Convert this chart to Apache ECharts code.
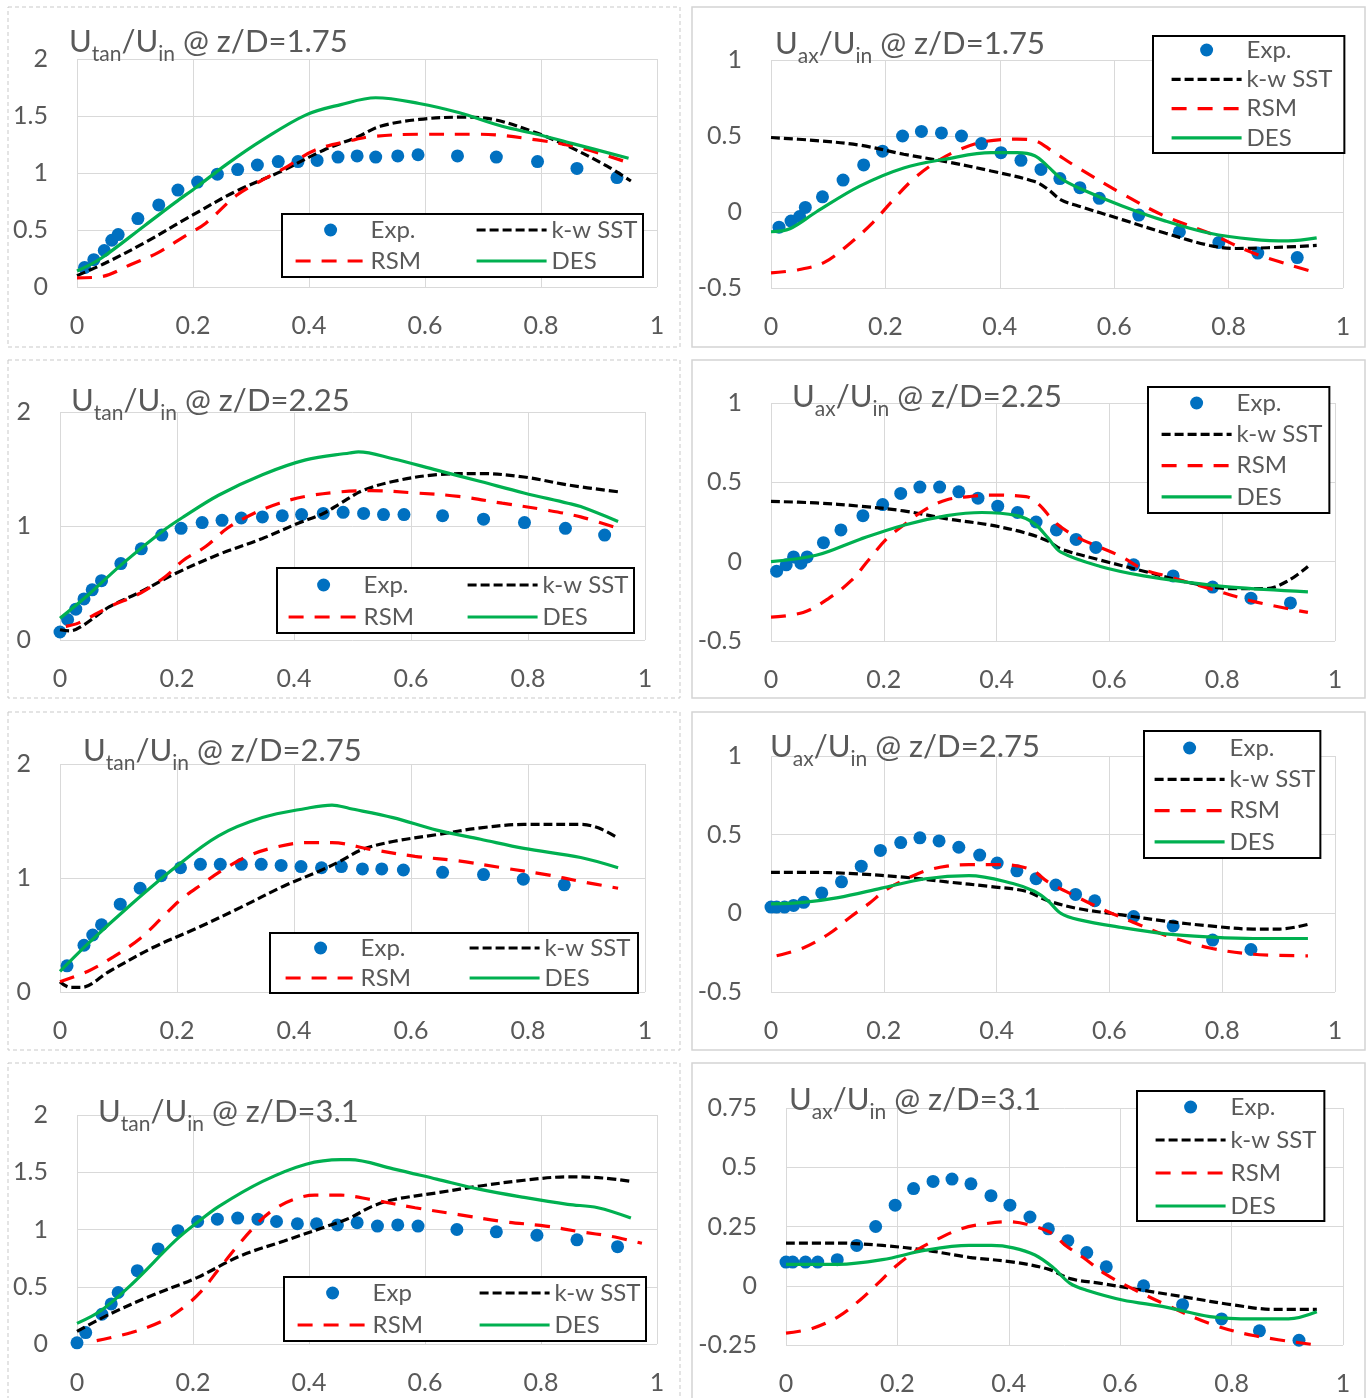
<!DOCTYPE html>
<html lang="en">
<head>
<meta charset="UTF-8">
<title>Velocity profiles</title>
<script src="https://cdn.jsdelivr.net/npm/echarts@6/dist/echarts.min.js"></script>
<style>
    html, body { margin: 0; padding: 0; background: #fff; }
    #chart { width: 1370px; height: 1398px; }
</style>
</head>
<body>
<div id="chart"></div>
<script>
    // ---- tangential velocity, z/D = 1.75
    var tan175Exp = [[0.013,0.17],[0.029,0.24],[0.047,0.32],[0.06,0.41],[0.071,0.46],[0.105,0.6],[0.141,0.72],[0.174,0.85],[0.208,0.92],[0.242,0.99],[0.277,1.03],[0.311,1.07],[0.347,1.1],[0.381,1.1],[0.414,1.11],[0.45,1.14],[0.483,1.15],[0.515,1.14],[0.553,1.15],[0.588,1.16],[0.656,1.15],[0.723,1.14],[0.794,1.1],[0.862,1.04],[0.931,0.96]];
    var tan175Sst = [[0,0.1],[0.049,0.21],[0.117,0.39],[0.199,0.63],[0.274,0.84],[0.35,1.01],[0.425,1.2],[0.485,1.32],[0.523,1.41],[0.59,1.47],[0.665,1.49],[0.718,1.47],[0.793,1.35],[0.853,1.22],[0.914,1.06],[0.955,0.93]];
    var tan175Rsm = [[0,0.08],[0.041,0.09],[0.094,0.2],[0.139,0.3],[0.184,0.44],[0.222,0.56],[0.274,0.8],[0.32,0.94],[0.357,1.04],[0.41,1.2],[0.477,1.29],[0.508,1.32],[0.59,1.34],[0.695,1.34],[0.793,1.29],[0.868,1.22],[0.951,1.09]];
    var tan175Des = [[0,0.14],[0.041,0.25],[0.117,0.54],[0.169,0.74],[0.207,0.88],[0.259,1.08],[0.32,1.29],[0.395,1.51],[0.455,1.6],[0.515,1.66],[0.59,1.61],[0.658,1.53],[0.733,1.41],[0.793,1.34],[0.853,1.26],[0.951,1.13]];

    // ---- axial velocity, z/D = 1.75
    var ax175Exp = [[0.014,-0.1],[0.035,-0.06],[0.05,-0.03],[0.06,0.03],[0.09,0.1],[0.126,0.21],[0.162,0.31],[0.195,0.4],[0.23,0.5],[0.263,0.53],[0.298,0.52],[0.333,0.5],[0.368,0.45],[0.402,0.39],[0.437,0.34],[0.472,0.28],[0.505,0.22],[0.54,0.16],[0.574,0.09],[0.643,-0.02],[0.714,-0.13],[0.783,-0.2],[0.851,-0.27],[0.92,-0.3]];
    var ax175Sst = [[0,0.49],[0.079,0.47],[0.155,0.44],[0.232,0.38],[0.308,0.33],[0.385,0.27],[0.461,0.2],[0.484,0.15],[0.507,0.08],[0.537,0.04],[0.614,-0.05],[0.69,-0.14],[0.767,-0.22],[0.813,-0.24],[0.954,-0.22]];
    var ax175Rsm = [[0,-0.4],[0.048,-0.38],[0.094,-0.33],[0.14,-0.2],[0.178,-0.07],[0.209,0.06],[0.247,0.21],[0.285,0.32],[0.323,0.4],[0.369,0.46],[0.43,0.48],[0.461,0.47],[0.492,0.4],[0.537,0.29],[0.614,0.12],[0.69,-0.03],[0.767,-0.14],[0.843,-0.27],[0.954,-0.4]];
    var ax175Des = [[0,-0.13],[0.033,-0.11],[0.079,0],[0.155,0.17],[0.232,0.29],[0.308,0.35],[0.385,0.39],[0.43,0.39],[0.461,0.37],[0.484,0.3],[0.507,0.22],[0.537,0.16],[0.614,0.04],[0.69,-0.06],[0.767,-0.14],[0.843,-0.18],[0.904,-0.19],[0.954,-0.17]];

    // ---- tangential velocity, z/D = 2.25
    var tan225Exp = [[0,0.07],[0.013,0.18],[0.027,0.27],[0.041,0.36],[0.055,0.44],[0.071,0.52],[0.104,0.67],[0.139,0.8],[0.174,0.92],[0.207,0.98],[0.243,1.03],[0.277,1.05],[0.31,1.07],[0.346,1.08],[0.38,1.09],[0.413,1.1],[0.45,1.11],[0.484,1.12],[0.519,1.11],[0.553,1.1],[0.588,1.1],[0.654,1.09],[0.724,1.06],[0.794,1.03],[0.864,0.98],[0.931,0.92]];
    var tan225Sst = [[0,0.09],[0.017,0.08],[0.04,0.13],[0.084,0.29],[0.137,0.42],[0.196,0.58],[0.271,0.75],[0.346,0.89],[0.405,1.02],[0.45,1.11],[0.48,1.2],[0.517,1.31],[0.569,1.39],[0.644,1.45],[0.719,1.46],[0.793,1.43],[0.868,1.36],[0.954,1.3]];
    var tan225Rsm = [[0.01,0.12],[0.032,0.15],[0.084,0.29],[0.137,0.41],[0.181,0.56],[0.211,0.7],[0.249,0.82],[0.286,0.98],[0.331,1.11],[0.375,1.2],[0.42,1.26],[0.48,1.3],[0.532,1.31],[0.607,1.29],[0.681,1.26],[0.756,1.2],[0.831,1.14],[0.89,1.08],[0.954,0.98]];
    var tan225Des = [[0,0.19],[0.047,0.39],[0.107,0.67],[0.174,0.95],[0.211,1.08],[0.271,1.27],[0.346,1.45],[0.42,1.58],[0.495,1.64],[0.51,1.65],[0.569,1.59],[0.644,1.49],[0.719,1.39],[0.793,1.29],[0.868,1.2],[0.89,1.17],[0.954,1.04]];

    // ---- axial velocity, z/D = 2.25
    var ax225Exp = [[0.01,-0.06],[0.027,-0.02],[0.04,0.03],[0.053,-0.01],[0.064,0.03],[0.093,0.12],[0.124,0.2],[0.163,0.29],[0.198,0.36],[0.23,0.43],[0.264,0.47],[0.299,0.47],[0.333,0.44],[0.367,0.4],[0.402,0.35],[0.437,0.31],[0.47,0.25],[0.506,0.2],[0.541,0.14],[0.576,0.09],[0.643,-0.02],[0.713,-0.09],[0.783,-0.16],[0.851,-0.23],[0.921,-0.26]];
    var ax225Sst = [[0,0.38],[0.08,0.37],[0.157,0.35],[0.235,0.32],[0.312,0.27],[0.39,0.23],[0.452,0.18],[0.491,0.13],[0.514,0.08],[0.584,0.01],[0.661,-0.06],[0.739,-0.13],[0.816,-0.17],[0.878,-0.17],[0.917,-0.12],[0.952,-0.03]];
    var ax225Rsm = [[0,-0.35],[0.057,-0.32],[0.103,-0.23],[0.142,-0.12],[0.173,0.01],[0.204,0.14],[0.235,0.23],[0.274,0.33],[0.312,0.39],[0.351,0.41],[0.39,0.42],[0.452,0.41],[0.475,0.36],[0.506,0.24],[0.545,0.15],[0.584,0.09],[0.622,0.03],[0.661,-0.05],[0.7,-0.09],[0.778,-0.17],[0.855,-0.25],[0.952,-0.32]];
    var ax225Des = [[0,0],[0.08,0.04],[0.157,0.14],[0.235,0.23],[0.312,0.29],[0.374,0.31],[0.436,0.29],[0.467,0.24],[0.491,0.15],[0.514,0.06],[0.584,-0.03],[0.661,-0.09],[0.739,-0.13],[0.816,-0.16],[0.952,-0.19]];

    // ---- tangential velocity, z/D = 2.75
    var tan275Exp = [[0.012,0.23],[0.041,0.41],[0.056,0.5],[0.071,0.59],[0.103,0.77],[0.137,0.91],[0.173,1.02],[0.206,1.09],[0.24,1.12],[0.274,1.12],[0.31,1.12],[0.344,1.12],[0.378,1.11],[0.412,1.1],[0.447,1.09],[0.481,1.1],[0.517,1.08],[0.55,1.08],[0.587,1.07],[0.654,1.05],[0.724,1.03],[0.792,0.99],[0.862,0.94]];
    var tan275Sst = [[0,0.09],[0.017,0.04],[0.036,0.04],[0.084,0.18],[0.159,0.39],[0.234,0.56],[0.308,0.74],[0.383,0.93],[0.443,1.06],[0.48,1.15],[0.517,1.25],[0.569,1.32],[0.644,1.38],[0.719,1.44],[0.793,1.47],[0.89,1.47],[0.92,1.44],[0.954,1.35]];
    var tan275Rsm = [[0,0.09],[0.047,0.18],[0.092,0.31],[0.137,0.47],[0.174,0.65],[0.204,0.8],[0.241,0.94],[0.278,1.07],[0.316,1.18],[0.36,1.26],[0.42,1.31],[0.465,1.31],[0.532,1.25],[0.607,1.19],[0.681,1.15],[0.756,1.09],[0.831,1.03],[0.89,0.97],[0.954,0.91]];
    var tan275Des = [[0,0.18],[0.047,0.42],[0.122,0.77],[0.196,1.09],[0.271,1.37],[0.346,1.53],[0.42,1.61],[0.465,1.64],[0.495,1.61],[0.569,1.53],[0.644,1.42],[0.719,1.34],[0.793,1.26],[0.89,1.18],[0.954,1.09]];

    // ---- axial velocity, z/D = 2.75
    var ax275Exp = [[0,0.04],[0.01,0.04],[0.024,0.04],[0.04,0.05],[0.058,0.07],[0.09,0.13],[0.125,0.2],[0.16,0.3],[0.194,0.4],[0.23,0.45],[0.264,0.48],[0.298,0.46],[0.333,0.42],[0.37,0.37],[0.401,0.32],[0.436,0.27],[0.47,0.22],[0.505,0.18],[0.54,0.12],[0.574,0.08],[0.643,-0.02],[0.713,-0.08],[0.783,-0.17],[0.851,-0.23]];
    var ax275Sst = [[0,0.26],[0.08,0.26],[0.157,0.25],[0.235,0.23],[0.312,0.2],[0.39,0.17],[0.452,0.14],[0.491,0.08],[0.545,0.03],[0.622,-0.01],[0.7,-0.05],[0.778,-0.08],[0.855,-0.1],[0.902,-0.1],[0.952,-0.07]];
    var ax275Rsm = [[0.01,-0.27],[0.057,-0.22],[0.103,-0.13],[0.142,-0.02],[0.173,0.06],[0.204,0.15],[0.235,0.21],[0.274,0.27],[0.312,0.3],[0.351,0.31],[0.405,0.31],[0.46,0.28],[0.491,0.2],[0.545,0.1],[0.591,0.02],[0.638,-0.05],[0.7,-0.14],[0.778,-0.22],[0.855,-0.26],[0.952,-0.27]];
    var ax275Des = [[0,0.06],[0.057,0.07],[0.119,0.1],[0.196,0.16],[0.274,0.22],[0.351,0.24],[0.429,0.19],[0.467,0.14],[0.491,0.08],[0.514,0],[0.545,-0.04],[0.622,-0.09],[0.7,-0.13],[0.778,-0.15],[0.855,-0.16],[0.952,-0.16]];

    // ---- tangential velocity, z/D = 3.1
    var tan31Exp = [[0,0.01],[0.015,0.1],[0.043,0.26],[0.059,0.35],[0.071,0.45],[0.104,0.64],[0.14,0.83],[0.174,0.99],[0.208,1.07],[0.242,1.09],[0.277,1.1],[0.312,1.09],[0.344,1.07],[0.38,1.05],[0.413,1.05],[0.449,1.04],[0.483,1.06],[0.518,1.03],[0.553,1.04],[0.588,1.03],[0.655,1],[0.723,0.98],[0.793,0.95],[0.862,0.91],[0.932,0.85]];
    var tan31Sst = [[0,0.11],[0.056,0.26],[0.132,0.43],[0.207,0.58],[0.282,0.77],[0.357,0.9],[0.432,1.03],[0.47,1.1],[0.508,1.2],[0.545,1.26],[0.62,1.32],[0.695,1.38],[0.771,1.43],[0.846,1.46],[0.906,1.45],[0.955,1.42]];
    var tan31Rsm = [[0.034,0.03],[0.094,0.1],[0.147,0.2],[0.184,0.32],[0.214,0.46],[0.244,0.65],[0.274,0.84],[0.305,1.02],[0.335,1.16],[0.372,1.26],[0.41,1.3],[0.455,1.3],[0.508,1.26],[0.583,1.19],[0.658,1.13],[0.733,1.07],[0.808,1.03],[0.868,0.98],[0.921,0.94],[0.974,0.88]];
    var tan31Des = [[0,0.18],[0.041,0.29],[0.094,0.52],[0.169,0.9],[0.207,1.06],[0.244,1.2],[0.32,1.42],[0.395,1.57],[0.455,1.61],[0.47,1.61],[0.545,1.53],[0.62,1.44],[0.695,1.35],[0.771,1.28],[0.846,1.22],[0.898,1.19],[0.955,1.1]];

    // ---- axial velocity, z/D = 3.1
    var ax31Exp = [[0,0.1],[0.012,0.1],[0.035,0.1],[0.057,0.1],[0.092,0.11],[0.127,0.17],[0.161,0.25],[0.196,0.34],[0.229,0.41],[0.264,0.44],[0.298,0.45],[0.332,0.43],[0.368,0.38],[0.402,0.34],[0.438,0.29],[0.471,0.24],[0.506,0.19],[0.54,0.14],[0.575,0.08],[0.642,0],[0.712,-0.08],[0.782,-0.14],[0.85,-0.19],[0.921,-0.23]];
    var ax31Sst = [[0,0.18],[0.094,0.18],[0.173,0.17],[0.251,0.15],[0.329,0.12],[0.408,0.1],[0.471,0.07],[0.51,0.03],[0.565,0.01],[0.643,-0.02],[0.722,-0.05],[0.8,-0.08],[0.878,-0.1],[0.953,-0.1]];
    var ax31Rsm = [[0,-0.2],[0.047,-0.18],[0.094,-0.13],[0.133,-0.06],[0.165,0.01],[0.196,0.08],[0.235,0.15],[0.275,0.2],[0.314,0.24],[0.353,0.26],[0.4,0.27],[0.447,0.25],[0.478,0.22],[0.502,0.17],[0.533,0.12],[0.573,0.05],[0.62,-0.01],[0.682,-0.08],[0.761,-0.16],[0.839,-0.21],[0.953,-0.25]];
    var ax31Des = [[0,0.09],[0.094,0.09],[0.173,0.11],[0.251,0.15],[0.329,0.17],[0.369,0.17],[0.408,0.16],[0.447,0.13],[0.478,0.08],[0.51,0.01],[0.541,-0.02],[0.604,-0.06],[0.682,-0.09],[0.761,-0.13],[0.839,-0.14],[0.902,-0.14],[0.953,-0.11]];

    var FONT = 'Lato, "DejaVu Sans", sans-serif';
    var GREY = '#595959';

    var SST_LINE = {color: '#000', width: 3.2, type: [9, 4]};
    var RSM_LINE = {color: '#ff0000', width: 3.2, type: [15, 11]};
    var DES_LINE = {color: '#00b050', width: 3.2};

    // one entry per panel: plot box, y range, title spot, legend layout
    // left column legends are two columns inside a drawn box, right column legends are one boxed column
    var panels = [
        {kind: 'tan', z: '1.75', expName: 'Exp.', data: [tan175Exp, tan175Sst, tan175Rsm, tan175Des],
            grid: [77, 59, 580, 228], y: [0, 2, 0.5], title: [69, 19],
            leg: {cols: [294, 475], top: 218, gap: 7, box: [282, 214, 361, 63]}},
        {kind: 'ax', z: '1.75', expName: 'Exp.', data: [ax175Exp, ax175Sst, ax175Rsm, ax175Des],
            grid: [771, 60, 572, 228], y: [-0.5, 1, 0.5], title: [775, 21],
            leg: {left: 1153, top: 36, gap: 5.3, pad: [2, 12, 3, 17]}},
        {kind: 'tan', z: '2.25', expName: 'Exp.', data: [tan225Exp, tan225Sst, tan225Rsm, tan225Des],
            grid: [60, 412, 585, 228], y: [0, 2, 1], title: [71, 378],
            leg: {cols: [287, 466], top: 573, gap: 8, box: [277, 568, 357, 65]}},
        {kind: 'ax', z: '2.25', expName: 'Exp.', data: [ax225Exp, ax225Sst, ax225Rsm, ax225Des],
            grid: [771, 403, 564, 238], y: [-0.5, 1, 0.5], title: [792, 374],
            leg: {left: 1148, top: 387, gap: 7.3, pad: [4, 7, 4, 12]}},
        {kind: 'tan', z: '2.75', expName: 'Exp.', data: [tan275Exp, tan275Sst, tan275Rsm, tan275Des],
            grid: [60, 764, 585, 228], y: [0, 2, 1], title: [83, 728],
            leg: {cols: [284, 468], top: 936, gap: 6, box: [270, 933, 368, 60]}},
        {kind: 'ax', z: '2.75', expName: 'Exp.', data: [ax275Exp, ax275Sst, ax275Rsm, ax275Des],
            grid: [771, 756, 564, 236], y: [-0.5, 1, 0.5], title: [770, 724],
            leg: {left: 1144, top: 731, gap: 7.3, pad: [5, 5, 4, 9]}},
        {kind: 'tan', z: '3.1', expName: 'Exp', data: [tan31Exp, tan31Sst, tan31Rsm, tan31Des],
            grid: [77, 1115, 580, 229], y: [0, 2, 0.5], title: [98, 1089],
            leg: {cols: [296, 478], top: 1281, gap: 8, box: [284, 1277, 362, 64]}},
        {kind: 'ax', z: '3.1', expName: 'Exp.', data: [ax31Exp, ax31Sst, ax31Rsm, ax31Des],
            grid: [786, 1108, 557, 237], y: [-0.25, 0.75, 0.25], title: [789, 1077],
            leg: {left: 1137, top: 1091, gap: 9, pad: [4, 8, 3, 17]}}
    ];

    var option = {
        backgroundColor: '#fff',
        animation: false,
        grid: [], xAxis: [], yAxis: [], title: [], legend: [], series: [],
        graphic: []
    };

    // panel frames: dashed on the left column, solid on the right
    [[7, 340], [360, 338], [712, 338], [1063, 340]].forEach(function (r) {
        option.graphic.push({type: 'rect', z: 0, silent: true, shape: {x: 8, y: r[0], width: 672, height: r[1]},
            style: {fill: 'none', stroke: '#c9c9c9', lineWidth: 1, lineDash: [4, 3]}});
        option.graphic.push({type: 'rect', z: 0, silent: true, shape: {x: 692, y: r[0], width: 673, height: r[1]},
            style: {fill: 'none', stroke: '#d4d4d4', lineWidth: 1.5}});
    });

    // legend entries for lines: hide the marker the line icon would carry
    var noMarker = {color: 'rgba(0,0,0,0)', borderWidth: 0, opacity: 0};
    function legendItem(name, line) {
        if (!line) return {name: name};
        return {name: name, itemStyle: noMarker, lineStyle: line};
    }

    function legendBase(extra) {
        var base = {
            orient: 'vertical', itemWidth: 70, itemHeight: 13, z: 10, selectedMode: false,
            textStyle: {fontSize: 24, color: GREY, fontFamily: FONT}
        };
        for (var k in extra) base[k] = extra[k];
        return base;
    }

    panels.forEach(function (p, i) {
        option.grid.push({left: p.grid[0], top: p.grid[1], width: p.grid[2], height: p.grid[3]});
        option.xAxis.push({
            type: 'value', gridIndex: i, min: 0, max: 1, interval: 0.2,
            axisLine: {show: false, onZero: false}, axisTick: {show: false},
            splitLine: {lineStyle: {color: '#d9d9d9', width: 1}},
            axisLabel: {fontSize: 25, color: GREY, fontFamily: FONT, margin: 26}
        });
        option.yAxis.push({
            type: 'value', gridIndex: i, min: p.y[0], max: p.y[1], interval: p.y[2],
            axisLine: {show: false}, axisTick: {show: false},
            splitLine: {lineStyle: {color: '#d9d9d9', width: 1}},
            axisLabel: {fontSize: 25, color: GREY, fontFamily: FONT, margin: 29}
        });
        option.title.push({
            left: p.title[0], top: p.title[1], padding: 0,
            text: '{m|U}{s|' + p.kind + '}{m|/U}{s|in}{m| @ z/D=' + p.z + '}',
            textStyle: {
                fontWeight: 'normal',
                rich: {
                    m: {fontSize: 31, lineHeight: 46, color: GREY, fontFamily: FONT, fontWeight: 'normal', verticalAlign: 'middle'},
                    s: {fontSize: 21, lineHeight: 21, color: GREY, fontFamily: FONT, fontWeight: 'normal', verticalAlign: 'bottom'}
                }
            }
        });

        var L = p.leg;
        if (L.cols) {
            option.graphic.push({type: 'rect', z: 8, silent: true,
                shape: {x: L.box[0], y: L.box[1], width: L.box[2], height: L.box[3]},
                style: {fill: '#fff', stroke: '#000', lineWidth: 2}});
            option.legend.push(legendBase({left: L.cols[0], top: L.top, padding: 0, itemGap: L.gap,
                data: [legendItem(p.expName), legendItem('RSM', RSM_LINE)]}));
            option.legend.push(legendBase({left: L.cols[1], top: L.top, padding: 0, itemGap: L.gap,
                data: [legendItem('k-w SST', SST_LINE), legendItem('DES', DES_LINE)]}));
        } else {
            option.legend.push(legendBase({left: L.left, top: L.top, padding: L.pad, itemGap: L.gap,
                backgroundColor: '#fff', borderColor: '#000', borderWidth: 2, borderRadius: 0,
                textStyle: {fontSize: 24, color: GREY, fontFamily: FONT, width: 83},
                data: [legendItem(p.expName), legendItem('k-w SST', SST_LINE),
                    legendItem('RSM', RSM_LINE), legendItem('DES', DES_LINE)]}));
        }

        option.series.push({
            name: p.expName, type: 'scatter', xAxisIndex: i, yAxisIndex: i,
            symbol: 'circle', symbolSize: 13, itemStyle: {color: '#0070c0', opacity: 1},
            data: p.data[0]
        });
        option.series.push({
            name: 'k-w SST', type: 'line', xAxisIndex: i, yAxisIndex: i, symbol: 'none', smooth: 0.35,
            lineStyle: SST_LINE, itemStyle: {color: '#000'},
            data: p.data[1]
        });
        option.series.push({
            name: 'RSM', type: 'line', xAxisIndex: i, yAxisIndex: i, symbol: 'none', smooth: 0.35,
            lineStyle: RSM_LINE, itemStyle: {color: '#ff0000'},
            data: p.data[2]
        });
        option.series.push({
            name: 'DES', type: 'line', xAxisIndex: i, yAxisIndex: i, symbol: 'none', smooth: 0.35,
            lineStyle: DES_LINE, itemStyle: {color: '#00b050'},
            data: p.data[3]
        });
    });

    var chart = echarts.init(document.getElementById('chart'));
    chart.setOption(option);
</script>
</body>
</html>
